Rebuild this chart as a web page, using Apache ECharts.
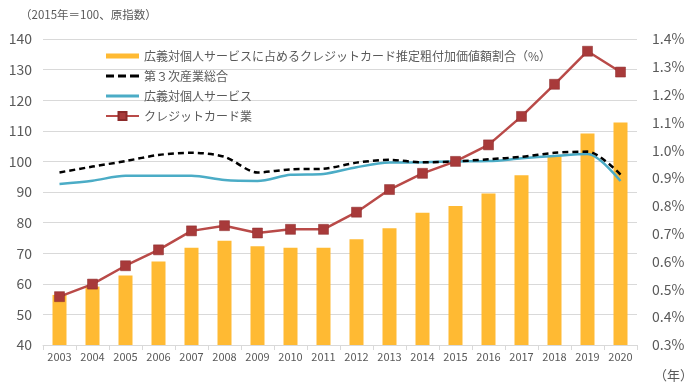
<!DOCTYPE html>
<html>
<head>
<meta charset="utf-8">
<script src="https://cdn.jsdelivr.net/npm/echarts@6/dist/echarts.min.js"></script>
<style>html,body{margin:0;padding:0;background:#fff}#c{width:700px;height:392px}</style>
</head>
<body>
<div id="c"></div>
<script>
const categories = ['2003','2004','2005','2006','2007','2008','2009','2010','2011','2012','2013','2014','2015','2016','2017','2018','2019','2020'];
const shareValues = [0.48,0.51,0.55,0.60,0.65,0.675,0.655,0.65,0.65,0.68,0.72,0.775,0.80,0.845,0.91,0.98,1.06,1.10];
const tertiaryValues = [96.4,98.3,100.1,102.1,102.8,101.5,96.4,97.4,97.6,99.6,100.5,99.7,100.0,100.7,101.5,102.8,103.2,95.7];
const personalValues = [92.6,93.7,95.3,95.3,95.3,93.9,93.6,95.6,95.9,98.1,99.6,99.7,100.0,100.1,101.0,101.8,102.4,93.6];
const creditValues = [55.8,59.9,65.9,71.1,77.3,79.0,76.6,77.8,77.8,83.4,90.8,96.1,100.0,105.4,114.7,125.2,136.0,129.2];
const seriesNames = ['広義対個人サービスに占めるクレジットカード推定粗付加価値額割合（%）','第３次産業総合','広義対個人サービス','クレジットカード業'];

const font = 'Noto Sans CJK JP';
const txt = '#595959';
const chart = echarts.init(document.getElementById('c'));
chart.setOption({
  animation: false,
  textStyle: {fontFamily: font},
  grid: {left: 43, right: 63, top: 39, bottom: 47},
  graphic: [
    {type: 'text', left: 20, top: 9, style: {text: '（2015年＝100、原指数）', fill: txt, font: '11.5px ' + font}},
    {type: 'text', left: 654, top: 369, style: {text: '（年）', fill: txt, font: '13px ' + font}}
  ],
  legend: {
    orient: 'vertical', left: 100, top: 45, itemWidth: 33, itemHeight: 10, itemGap: 8,
    textStyle: {color: txt, fontSize: 12, fontFamily: font},
    data: [
      {name: seriesNames[0], icon: 'path://M0,0 H33 V5 H0 Z'},
      {name: seriesNames[1], icon: 'path://M0,0 H8 V3 H0 Z M12,0 H20 V3 H12 Z M24,0 H33 V3 H24 Z'},
      {name: seriesNames[2], icon: 'path://M0,0 H33 V3 H0 Z'},
      {name: seriesNames[3]}
    ]
  },
  xAxis: {
    type: 'category', data: categories, boundaryGap: true,
    axisLine: {lineStyle: {color: '#d9d9d9'}},
    axisTick: {show: true, alignWithLabel: false, lineStyle: {color: '#d9d9d9'}, length: 5},
    axisLabel: {color: txt, fontSize: 11, margin: 6, interval: 0}
  },
  yAxis: [
    {
      type: 'value', min: 40, max: 140, interval: 10,
      axisLine: {show: false}, axisTick: {show: false},
      axisLabel: {color: txt, fontSize: 14, margin: 11},
      splitLine: {lineStyle: {color: '#d9d9d9'}}
    },
    {
      type: 'value', min: 0.3, max: 1.4, interval: 0.1, position: 'right',
      axisLine: {show: false}, axisTick: {show: false}, splitLine: {show: false},
      axisLabel: {color: txt, fontSize: 14, margin: 15, formatter: v => v.toFixed(1) + '%'}
    }
  ],
  series: [
    {name: seriesNames[0], type: 'bar', yAxisIndex: 1, data: shareValues, barWidth: 14,
     itemStyle: {color: '#FFBA33'}, z: 1},
    {name: seriesNames[2], type: 'line', data: personalValues, symbol: 'none', smooth: 0.3,
     lineStyle: {color: '#4BACC6', width: 2.5}, itemStyle: {color: '#4BACC6'}, z: 2},
    {name: seriesNames[1], type: 'line', data: tertiaryValues, symbol: 'none', smooth: 0.3,
     lineStyle: {color: '#000', width: 2.5, type: [6, 4]}, itemStyle: {color: '#000'}, z: 3},
    {name: seriesNames[3], type: 'line', data: creditValues, symbol: 'rect', symbolSize: 10,
     lineStyle: {color: '#B94A48', width: 2.5}, itemStyle: {color: '#A83A3A', borderColor: '#8B2A2A', borderWidth: 0.5}, z: 4}
  ]
});
</script>
</body>
</html>
